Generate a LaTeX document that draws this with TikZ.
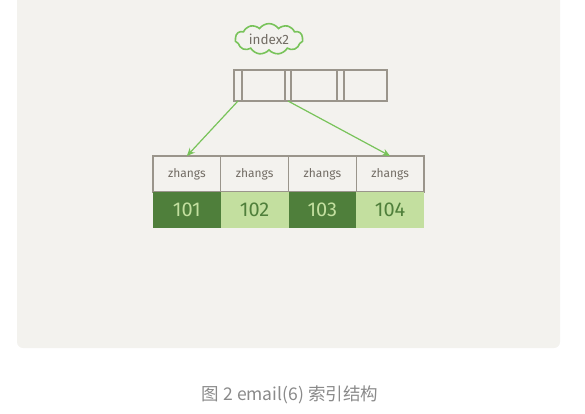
\documentclass[tikz,border=0pt]{standalone}
\usepackage{fontspec}
\setmainfont{Fira Sans}
\newfontfamily\cjk{Noto Sans CJK SC}
\usepackage{xcolor}
\usetikzlibrary{arrows.meta, positioning, shapes.symbols}

\definecolor{paper}{HTML}{F3F2EE}
\definecolor{linegray}{HTML}{9A958B}
\definecolor{inkgray}{HTML}{726C64}
\definecolor{leafdark}{HTML}{4F7F3B}
\definecolor{leaflight}{HTML}{C3DF9F}
\definecolor{arrowgreen}{HTML}{78C35A}
\definecolor{captiongray}{HTML}{8A8A8A}

\tikzset{
  cell/.style={draw=linegray, line width=1.1pt, fill=paper, inner sep=0pt, outer sep=0pt},
  upcell/.style={cell, minimum height=31pt},
  keycell/.style={cell, minimum width=67.75pt, minimum height=36pt, font=\fontsize{12}{14}\selectfont, text=inkgray},
  idcell/.style={inner sep=0pt, outer sep=0pt, minimum width=67.75pt, minimum height=36pt, font=\fontsize{20}{22}\selectfont},
  darkid/.style={idcell, fill=leafdark, text=leaflight},
  lightid/.style={idcell, fill=leaflight, text=leafdark},
  ptr/.style={-{Stealth[length=8pt, width=7pt]}, arrowgreen, line width=1.2pt}
}

\begin{document}
\begin{tikzpicture}[x=1pt, y=-1pt]
        \useasboundingbox (0,0) rectangle (585,414);
        \fill[paper, rounded corners=6pt] (17,-20) rectangle (560,348);

        \node[cloud, cloud puffs=11, cloud puff arc=110, aspect=2.6, draw=arrowgreen, line width=1.6pt, inner sep=1pt, minimum width=68pt, minimum height=29pt, text=inkgray, font=\fontsize{13.5}{15}\selectfont] (idx) at (269,39) {index2};

        \node[upcell, minimum width=8pt] (up1) at (238,85.5) {};
        \node[upcell, minimum width=43pt, right=0pt of up1] (uk1) {};
        \node[upcell, minimum width=6pt, right=0pt of uk1] (up2) {};
        \node[upcell, minimum width=46pt, right=0pt of up2] (uk2) {};
        \node[upcell, minimum width=7pt, right=0pt of uk2] (up3) {};
        \node[upcell, minimum width=43pt, right=0pt of up3] (uk3) {};

        \node[keycell] (lk1) at (186.875,174) {zhangs}; \node[keycell, right=0pt of lk1] (lk2) {zhangs}; \node[keycell, right=0pt of lk2] (lk3) {zhangs}; \node[keycell, right=0pt of lk3] (lk4) {zhangs};
        \node[darkid, below=0pt of lk1] (id1) {101}; \node[lightid, below=0pt of lk2] (id2) {102}; \node[darkid, below=0pt of lk3] (id3) {103}; \node[lightid, below=0pt of lk4] (id4) {104};

        \draw [ptr] (up1.south) -- (lk1.north);
        \draw [ptr] (up2.south) -- (lk4.north);

        \node[text=captiongray, font=\cjk\fontsize{17.5}{20}\selectfont] (caption) at (290,395) {图 2 email(6) 索引结构};
    \end{tikzpicture}
\end{document}
